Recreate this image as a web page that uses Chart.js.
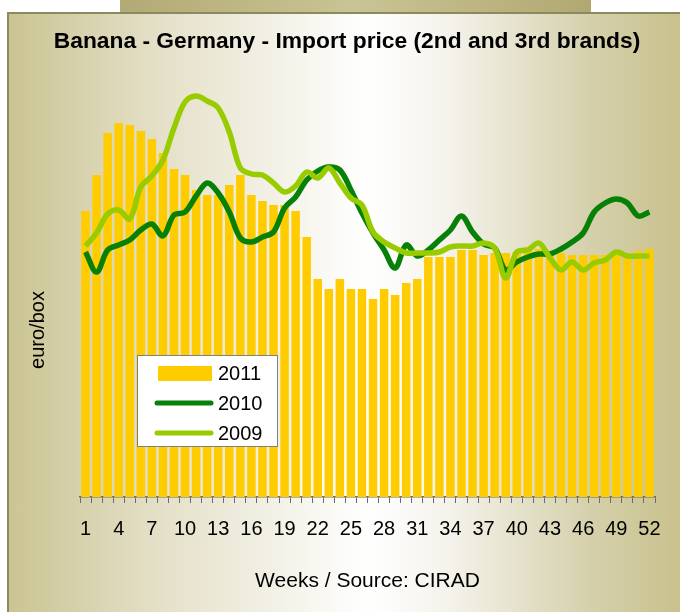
<!DOCTYPE html>
<html>
<head>
<meta charset="utf-8">
<script src="https://cdn.jsdelivr.net/npm/chart.js@4.4.1/dist/chart.umd.min.js"></script>
<style>
  html, body { margin: 0; padding: 0; width: 680px; height: 612px; overflow: hidden; background: #fff; }
  #band { position: absolute; left: 120px; top: 0; width: 471px; height: 13px;
    background: linear-gradient(to right, #B2AA74, #C9C494 50%, #B1A871); }
  #frame { position: absolute; left: 7px; top: 12px; width: 680px; height: 610px;
    border-left: 2px solid #8D895F; border-top: 2px solid #8D895F;
    background: linear-gradient(to right, #CBC493 0%, #E4E0C8 22%, #FFFFFF 53%, #F4F2EA 65%, #D6D1AD 85%, #C7BF8A 100%); }
  #wrap { position: absolute; left: 0; top: 0; width: 680px; height: 612px; }
</style>
</head>
<body>
<div id="band"></div>
<div id="frame"></div>
<div id="wrap"><canvas id="bananaChart" width="680" height="612"></canvas></div>
<script>
// semaines (catégories)
const weeks = ['1','2','3','4','5','6','7','8','9','10','11','12','13','14','15','16','17','18','19','20',
  '21','22','23','24','25','26','27','28','29','30','31','32','33','34','35','36','37','38','39','40',
  '41','42','43','44','45','46','47','48','49','50','51','52'];
// étiquettes affichées sur l'axe
const shownWeeks = ['1','4','7','10','13','16','19','22','25','28','31','34','37','40','43','46','49','52'];

// prix (échelle non graduée)
const price2011 = [286,322,364,374,372,366,358,344,328,322,307,302,302,312,322,302,296,292,292,286,
  260,218,208,218,208,208,198,208,202,214,218,240,240,240,247,247,242,244,244,245,
  250,248,244,244,242,242,242,242,242,241,246,248];
const price2010 = [245,225,247,252,257,267,273,261,282,285,301,314,304,285,259,255,260,265,289,300,
  317,326,330,327,307,284,264,247,229,252,241,247,257,267,281,265,253,249,227,235,
  240,243,243,248,255,264,285,294,298,294,281,285];
const price2009 = [251,264,283,287,278,310,321,337,369,395,401,396,389,365,329,323,322,314,305,311,
  325,319,329,314,299,292,265,255,249,244,244,244,245,250,251,251,254,249,219,245,
  247,254,239,227,235,227,234,237,245,241,241,241];

const FONT = '"Liberation Sans", Arial, sans-serif';

// légende encadrée + titre de l'axe Y
const legendBox = {
  id: 'legendBox',
  afterDraw(chart) {
    const ctx = chart.ctx;
    ctx.save();
    ctx.fillStyle = '#ffffff';
    ctx.fillRect(137.5, 355.5, 140, 91);
    ctx.strokeStyle = '#808080';
    ctx.lineWidth = 1;
    ctx.strokeRect(137.5, 355.5, 140, 91);
    ctx.font = '20px ' + FONT;
    ctx.textBaseline = 'middle';
    chart.data.datasets.forEach((ds, i) => {
      const y = 373 + i * 30;
      if (ds.type === 'bar') {
        ctx.fillStyle = ds.backgroundColor;
        ctx.fillRect(158, y - 7, 54, 15);
      } else {
        ctx.strokeStyle = ds.borderColor;
        ctx.lineWidth = 5;
        ctx.lineCap = 'round';
        ctx.beginPath();
        ctx.moveTo(157, y);
        ctx.lineTo(211, y);
        ctx.stroke();
      }
      ctx.fillStyle = '#000';
      ctx.textAlign = 'left';
      ctx.fillText(ds.label, 218, y + 1);
    });
    ctx.translate(38, 330);
    ctx.rotate(-Math.PI / 2);
    ctx.textAlign = 'center';
    ctx.fillStyle = '#000';
    ctx.fillText('euro/box', 0, 0);
    ctx.restore();
  }
};

const ctx = document.getElementById('bananaChart').getContext('2d');
const bananaChart = new Chart(ctx, {
  data: {
    labels: weeks,
    datasets: [{
      type: 'bar',
      label: '2011',
      data: price2011,
      backgroundColor: '#FFCC00',
      barPercentage: 0.77,
      categoryPercentage: 1,
      order: 3,
    }, {
      type: 'line',
      label: '2010',
      data: price2010,
      borderColor: '#078007',
      borderWidth: 5.5,
      pointRadius: 0,
      tension: 0.35,
      fill: false,
      order: 2,
    }, {
      type: 'line',
      label: '2009',
      data: price2009,
      borderColor: '#99CC00',
      borderWidth: 5.5,
      pointRadius: 0,
      tension: 0.35,
      fill: false,
      order: 1,
    }],
  },
  options: {
    responsive: false,
    animation: false,
    layout: { padding: { left: 39, right: 25, top: 0, bottom: 18.4 } },
    plugins: {
      legend: { display: false },
      tooltip: { enabled: false },
      title: {
        display: true,
        text: 'Banana - Germany - Import price (2nd and 3rd brands)',
        color: '#000',
        font: { family: FONT, size: 22.8, weight: 'bold' },
        padding: { top: 28.3, bottom: 1.34 },
      },
    },
    scales: {
      x: {
        grid: { offset: true, drawOnChartArea: false, drawTicks: true, tickLength: 6, color: '#6a6a6a' },
        border: { display: true, color: '#6a6a6a', width: 1.5 },
        ticks: {
          autoSkip: false,
          maxRotation: 0,
          padding: 14,
          color: '#000',
          font: { family: FONT, size: 20 },
          callback: function (value) {
            const lab = this.getLabelForValue(value);
            return shownWeeks.includes(lab) ? lab : '';
          },
        },
        title: {
          display: true,
          text: 'Weeks / Source: CIRAD',
          color: '#000',
          font: { family: FONT, size: 21 },
          padding: { top: 13.4, bottom: 0 },
        },
      },
      y: {
        min: 0,
        max: 440,
        ticks: { display: false },
        grid: { display: false, drawTicks: false },
        border: { display: false },
        afterFit: function (scale) { scale.width = 41; },
      },
    },
  },
  plugins: [legendBox],
});
</script>
</body>
</html>
